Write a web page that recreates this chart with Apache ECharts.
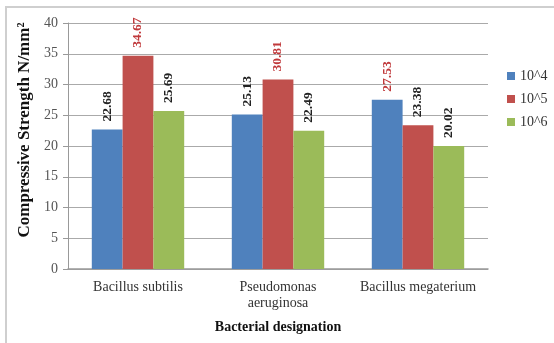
<!DOCTYPE html>
<html>
<head>
<meta charset="utf-8">
<script src="https://cdn.jsdelivr.net/npm/echarts@6/dist/echarts.min.js"></script>
<style>html,body{margin:0;padding:0;background:#fff}#c{width:554px;height:343px}</style>
</head>
<body>
<div id="c"></div>
<script>
var categories = ['Bacillus subtilis', 'Pseudomonas\naeruginosa', 'Bacillus megaterium'];
var seriesNames = ['10^4', '10^5', '10^6'];
var s104 = [22.68, 25.13, 27.53];
var s105 = [34.67, 30.81, 23.38];
var s106 = [25.69, 22.49, 20.02];
var yTicks = [0, 5, 10, 15, 20, 25, 30, 35, 40];
var colors = ['#4F81BD', '#C0504D', '#9BBB59'];

var all = [s104, s105, s106];
var maxPerCat = categories.map(function (c, i) {
  return Math.max(s104[i], s105[i], s106[i]);
});

var font = 'Liberation Serif';
var chart = echarts.init(document.getElementById('c'));
chart.setOption({
  animation: false,
  textStyle: { fontFamily: font },
  graphic: [{
    type: 'polyline',
    shape: { points: [[6, 343], [6, 7], [554, 7]] },
    style: { stroke: '#cfcfcf', fill: null, lineWidth: 2 }
  }],
  legend: {
    orient: 'vertical',
    left: 502,
    top: 64,
    itemWidth: 8,
    itemHeight: 8,
    itemGap: 9,
    icon: 'rect',
    formatter: function (n) { return '{t|' + n + '}'; },
    textStyle: {
      fontFamily: font, fontSize: 14, color: '#333',
      rich: { t: { fontFamily: font, fontSize: 14, color: '#333' } }
    },
    data: seriesNames
  },
  grid: { left: 68, right: 66, top: 23, bottom: 74 },
  xAxis: {
    type: 'category',
    data: categories,
    name: 'Bacterial designation',
    nameLocation: 'middle',
    nameGap: 51,
    nameTextStyle: { fontFamily: font, fontSize: 14, fontWeight: 'bold', color: '#111' },
    axisLine: { lineStyle: { color: '#999', width: 1.5 } },
    axisTick: { show: false },
    axisLabel: { fontFamily: font, fontSize: 14, color: '#333', margin: 10, lineHeight: 16, interval: 0 }
  },
  yAxis: {
    type: 'value',
    min: 0, max: 40, interval: 5,
    name: 'Compressive Strength N/mm²',
    nameLocation: 'middle',
    nameGap: 31,
    nameTextStyle: { fontFamily: font, fontSize: 17, fontWeight: 'bold', color: '#111', padding: [0, 0, 0, 32] },
    axisLine: { show: true, lineStyle: { color: '#999' } },
    axisTick: { show: true, length: 5, inside: false, lineStyle: { color: '#999' } },
    axisLabel: { fontFamily: font, fontSize: 14, color: '#555', margin: 10,
      formatter: function (v) { return yTicks.indexOf(v) >= 0 ? String(v) : ''; } },
    splitLine: { lineStyle: { color: '#aaa' } }
  },
  series: all.map(function (arr, si) {
    return {
      name: seriesNames[si],
      type: 'bar',
      data: arr,
      barGap: '0%',
      barCategoryGap: '34%',
      itemStyle: { color: colors[si] },
      label: {
        show: true,
        position: 'top',
        rotate: 90,
        align: 'left',
        verticalAlign: 'middle',
        distance: 8,
        formatter: function (p) {
          return (p.value === maxPerCat[p.dataIndex] ? '{r|' : '{k|') + p.value.toFixed(2) + '}';
        },
        rich: {
          r: { fontFamily: font, fontSize: 13.5, fontWeight: 'bold', color: '#C0393B' },
          k: { fontFamily: font, fontSize: 13.5, fontWeight: 'bold', color: '#222' }
        }
      }
    };
  })
});
</script>
</body>
</html>
